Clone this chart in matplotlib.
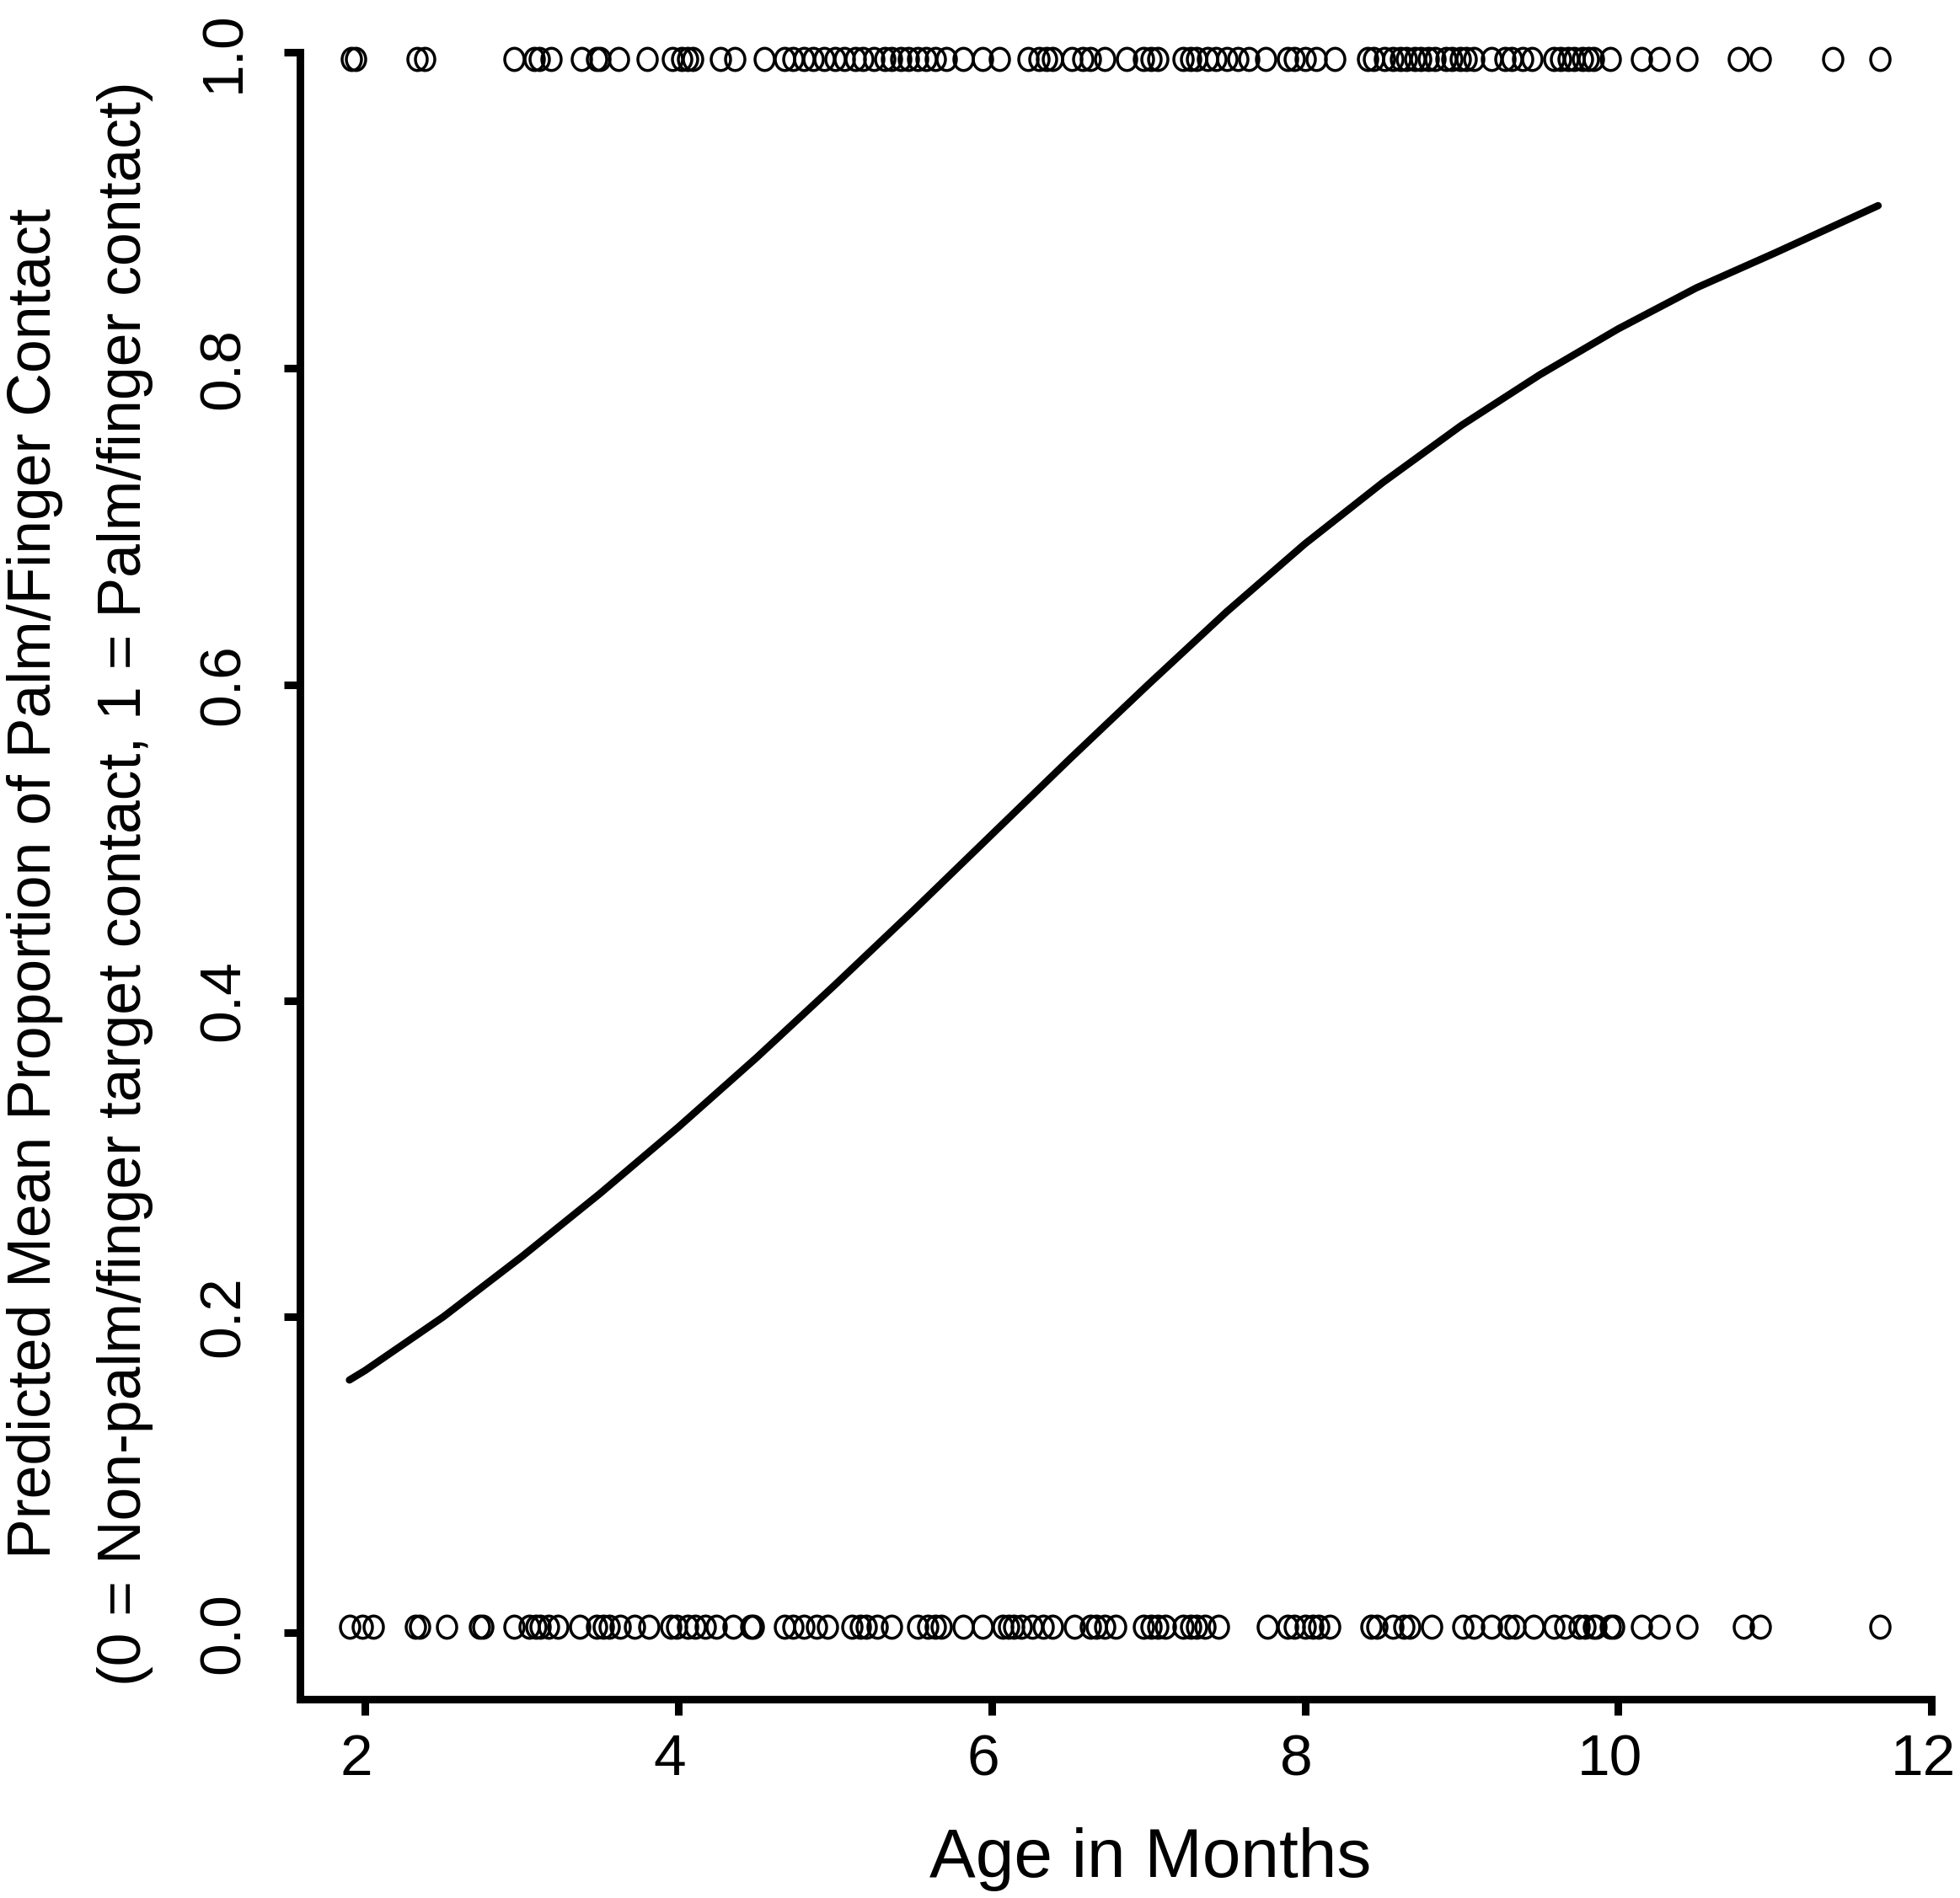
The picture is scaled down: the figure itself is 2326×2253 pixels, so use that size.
import matplotlib
matplotlib.use("Agg")
import matplotlib.pyplot as plt
from matplotlib.path import Path
from matplotlib.transforms import Affine2D, ScaledTranslation

plt.rcParams['font.family'] = ['Liberation Sans', 'DejaVu Sans']

# Observed ages (months) of reaches with palm/finger contact (outcome = 1)
age_contact = [1.91, 1.94, 2.33, 2.38, 2.95, 3.08, 3.11, 3.19, 3.38, 3.48, 3.50, 3.62,
               3.80, 3.96, 4.02, 4.06, 4.09, 4.27, 4.36, 4.55, 4.68, 4.73, 4.80, 4.86,
               4.93, 5.00, 5.06, 5.13, 5.18, 5.25, 5.32, 5.36, 5.42, 5.47, 5.53, 5.58,
               5.64, 5.71, 5.82, 5.94, 6.05, 6.23, 6.30, 6.35, 6.39, 6.51, 6.58, 6.63,
               6.72, 6.86, 6.97, 7.02, 7.06, 7.22, 7.27, 7.31, 7.38, 7.43, 7.50, 7.57,
               7.64, 7.75, 7.89, 7.93, 8.00, 8.07, 8.19, 8.40, 8.44, 8.51, 8.56, 8.61,
               8.65, 8.70, 8.74, 8.79, 8.83, 8.90, 8.94, 8.99, 9.03, 9.08, 9.19, 9.28,
               9.32, 9.39, 9.45, 9.59, 9.63, 9.68, 9.72, 9.77, 9.81, 9.84, 9.95, 10.15,
               10.26, 10.44, 10.77, 10.91, 11.37, 11.67]

# Observed ages (months) of reaches without palm/finger contact (outcome = 0)
age_no_contact = [1.90, 1.98, 2.05, 2.32, 2.35, 2.52, 2.73, 2.75, 2.95, 3.05, 3.09, 3.12,
                  3.17, 3.23, 3.37, 3.48, 3.52, 3.56, 3.63, 3.72, 3.81, 3.95, 3.99, 4.06,
                  4.11, 4.17, 4.24, 4.35, 4.46, 4.48, 4.68, 4.73, 4.80, 4.88, 4.95, 5.11,
                  5.16, 5.20, 5.27, 5.36, 5.53, 5.59, 5.64, 5.68, 5.82, 5.94, 6.07, 6.11,
                  6.14, 6.19, 6.26, 6.33, 6.39, 6.53, 6.63, 6.67, 6.72, 6.79, 6.97, 7.02,
                  7.06, 7.11, 7.22, 7.27, 7.31, 7.36, 7.45, 7.76, 7.89, 7.93, 8.00, 8.05,
                  8.09, 8.16, 8.42, 8.46, 8.56, 8.63, 8.67, 8.81, 9.01, 9.08, 9.19, 9.30,
                  9.34, 9.46, 9.59, 9.66, 9.75, 9.79, 9.84, 9.86, 9.95, 9.97, 10.15, 10.26,
                  10.44, 10.80, 10.91, 11.67]

# Vertical level at which each outcome row is drawn
row_level_contact = 0.996
row_level_no_contact = 0.004

# Predicted mean proportion curve
curve_age = [1.90, 2.00, 2.50, 3.00, 3.50, 4.00, 4.50, 5.00, 5.50, 6.00, 6.50, 7.00,
             7.50, 8.00, 8.50, 9.00, 9.50, 10.00, 10.50, 11.00, 11.66]
curve_prob = [0.160, 0.166, 0.200, 0.238, 0.278, 0.320, 0.364, 0.410, 0.457, 0.505,
              0.553, 0.600, 0.646, 0.689, 0.728, 0.764, 0.796, 0.825, 0.851, 0.873,
              0.903]

x_ticks = [2, 4, 6, 8, 10, 12]
x_tick_labels = ['2', '4', '6', '8', '10', '12']
y_ticks = [0.0, 0.2, 0.4, 0.6, 0.8, 1.0]
y_tick_labels = ['0.0', '0.2', '0.4', '0.6', '0.8', '1.0']

fig = plt.figure(figsize=(23.26, 22.53), dpi=100)
fig.patch.set_facecolor('white')
ax = fig.add_axes([0.1531, 0.1047, 0.8371, 0.8744])

ellipse = Path.unit_circle().transformed(Affine2D().scale(0.87, 1.0))

ax.plot(age_contact, [row_level_contact] * len(age_contact), linestyle='none',
        marker=ellipse, markersize=19, markerfacecolor='none',
        markeredgecolor='black', markeredgewidth=2.5)
ax.plot(age_no_contact, [row_level_no_contact] * len(age_no_contact), linestyle='none',
        marker=ellipse, markersize=19, markerfacecolor='none',
        markeredgecolor='black', markeredgewidth=2.5)
ax.plot(curve_age, curve_prob, color='black', linewidth=6.2,
        solid_capstyle='round', solid_joinstyle='round')

ax.set_xlim(1.585, 12.06)
ax.set_ylim(-0.042, 1.008)
for s in ['top', 'right']:
    ax.spines[s].set_visible(False)
ax.spines['left'].set_bounds(-0.042, 1.0)
ax.spines['bottom'].set_bounds(1.585, 12)
for s in ['left', 'bottom']:
    ax.spines[s].set_linewidth(6.5)
    ax.spines[s].set_capstyle('projecting')

ax.set_xticks(x_ticks)
ax.set_xticklabels(x_tick_labels)
ax.set_yticks(y_ticks)
ax.set_yticklabels(y_tick_labels, rotation=90, va='center')
ax.tick_params(length=14, width=6.5, direction='out', labelsize=50, color='black')
ax.tick_params(axis='x', pad=15)
ax.tick_params(axis='y', pad=28)

shift_left = ScaledTranslation(-10 / 100.0, 0, fig.dpi_scale_trans)
for lab in ax.get_xticklabels():
    lab.set_transform(lab.get_transform() + shift_left)

fig.text(0.587, 0.011, 'Age in Months', ha='center', va='baseline', fontsize=59)
fig.text(0.0179, 0.5346, 'Predicted Mean Proportion of Palm/Finger Contact',
         rotation=90, ha='center', va='center', fontsize=51.5)
fig.text(0.0638, 0.5346, '(0 = Non-palm/finger target contact, 1 = Palm/finger contact)',
         rotation=90, ha='center', va='center', fontsize=51.5)

fig.savefig('out.png', dpi=100, facecolor='white')
